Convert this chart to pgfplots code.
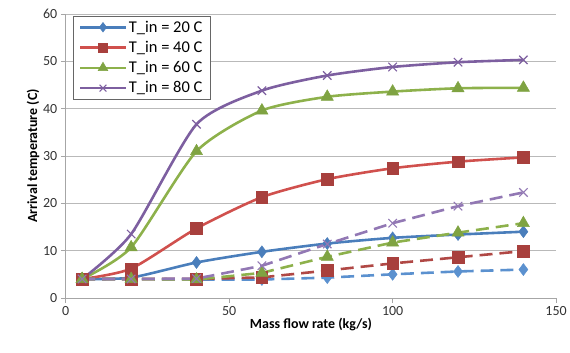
\documentclass[border=0pt]{standalone}
\usepackage{pgfplots}
\pgfplotsset{compat=1.18}
\usepackage{fontspec}
\setmainfont{Carlito}
\usetikzlibrary{plotmarks}
\definecolor{cblue}{HTML}{4A7EBB}
\definecolor{cred}{HTML}{D0504D}
\definecolor{cgreen}{HTML}{8DB14B}
\definecolor{cpurple}{HTML}{7D5FA0}
\definecolor{cbluem}{HTML}{4A7EBB}
\definecolor{credm}{HTML}{A8403D}
\definecolor{cgreenm}{HTML}{7FA342}
\definecolor{dblue}{HTML}{5B91CF}
\definecolor{dred}{HTML}{B04845}
\definecolor{dgreen}{HTML}{8DB14B}
\definecolor{dpurple}{HTML}{9278B4}
\begin{document}
\begin{tikzpicture}
\begin{axis}[
  scale only axis, width=492pt, height=285pt,
  xmin=0, xmax=150, ymin=0, ymax=60,
  xtick={0,50,100,150}, ytick={0,10,...,60},
  axis x line*=bottom, axis y line*=left,
  axis line style={draw=gray!70, line width=0.8pt},
  tick style={draw=gray!70, line width=0.8pt},
  tick align=outside, major tick length=5pt,
  ymajorgrids, grid style={draw=gray!55, line width=0.9pt},
  tick label style={font=\fontsize{14}{16}\selectfont, text=black!80},
  /pgf/number format/assume math mode=true,
  xlabel={\textbf{Mass flow rate (kg/s)}},
  ylabel={\textbf{Arrival temperature (C)}},
  label style={font=\fontsize{14}{16}\selectfont},
  xlabel style={yshift=4pt},
  ylabel style={yshift=-3pt},
  legend style={at={(rel axis cs:0.014,0.993)}, anchor=north west, draw=gray!80!black, line width=0.8pt,
    font=\fontsize{16.5}{18}\selectfont, row sep=3.5pt, inner xsep=6pt, inner ysep=2.5pt},
  legend cell align=left,
  legend image code/.code={\draw[#1, line width=2.6pt] (0cm,0cm) -- (1.6cm,0cm); \draw[#1, scale=0.8] plot coordinates {(1cm,0cm)};},
]
\addplot[cblue, line width=2.6pt, smooth, tension=0.4, mark=diamond*, mark size=6pt, mark options={fill=cbluem, draw=cbluem, line width=0.5pt}]
 coordinates {(5,4.0) (20,4.3) (40,7.5) (60,9.75) (80,11.5) (100,12.7) (120,13.4) (140,14.0)};
\addlegendentry{T\_in = 20 C}
\addplot[cred, line width=2.6pt, smooth, tension=0.4, mark=square*, mark size=5.8pt, mark options={fill=credm, draw=credm, line width=0.5pt}]
 coordinates {(5,4.0) (20,6.2) (40,14.7) (60,21.3) (80,25.1) (100,27.4) (120,28.8) (140,29.7)};
\addlegendentry{T\_in = 40 C}
\addplot[cgreen, line width=2.6pt, smooth, tension=0.4, mark=triangle*, mark size=7pt, mark options={fill=cgreenm, draw=cgreenm, line width=0.5pt}]
 coordinates {(5,4.0) (20,10.7) (40,31.0) (60,39.6) (80,42.5) (100,43.6) (120,44.3) (140,44.4)};
\addlegendentry{T\_in = 60 C}
\addplot[cpurple, line width=2.6pt, smooth, tension=0.4, mark=x, mark size=6pt, mark options={draw=cpurple, line width=1.1pt}]
 coordinates {(5,4.0) (20,13.5) (40,36.7) (60,43.8) (80,47.0) (100,48.8) (120,49.8) (140,50.3)};
\addlegendentry{T\_in = 80 C}
% dashed series
\addplot[dblue, line width=2.6pt, dash pattern=on 13pt off 7pt, mark=diamond*, mark size=6pt, mark options={solid, fill=dblue, draw=dblue, line width=0.5pt}, forget plot]
 coordinates {(5,4.0) (20,4.0) (40,3.9) (60,3.9) (80,4.3) (100,5.0) (120,5.6) (140,6.0)};
\addplot[dred, line width=2.6pt, dash pattern=on 13pt off 7pt, mark=square*, mark size=5.8pt, mark options={solid, fill=credm, draw=credm, line width=0.5pt}, forget plot]
 coordinates {(5,4.0) (20,4.0) (40,4.0) (60,4.35) (80,5.8) (100,7.3) (120,8.6) (140,9.9)};
\addplot[dgreen, line width=2.6pt, dash pattern=on 13pt off 7pt, mark=triangle*, mark size=7pt, mark options={solid, fill=cgreenm, draw=cgreenm, line width=0.5pt}, forget plot]
 coordinates {(5,4.0) (20,4.0) (40,3.9) (60,5.3) (80,8.7) (100,11.7) (120,13.8) (140,15.8)};
\addplot[dpurple, line width=2.6pt, dash pattern=on 13pt off 7pt, mark=x, mark size=6pt, mark options={solid, draw=dpurple, line width=1.1pt}, forget plot]
 coordinates {(5,4.0) (20,4.0) (40,4.1) (60,6.8) (80,11.4) (100,15.8) (120,19.4) (140,22.3)};
\end{axis}
\useasboundingbox (-66pt,-55pt) rectangle (504pt,299pt);
\end{tikzpicture}
\end{document}
